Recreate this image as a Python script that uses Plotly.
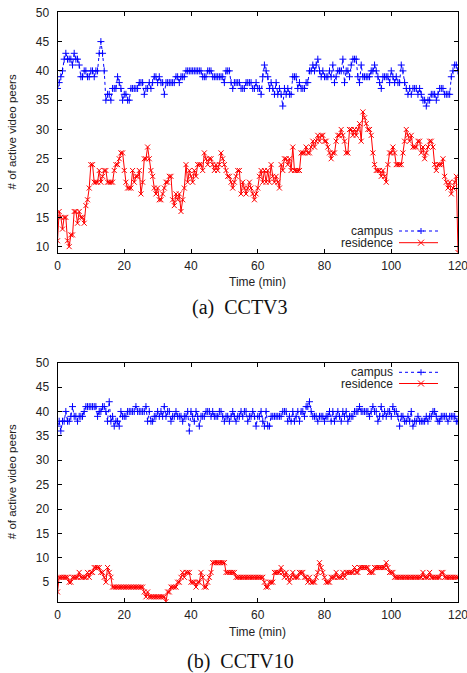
import numpy as np
import plotly.graph_objects as go

# ---------------- data (sampled every 0.5 min, 0..120) ----------------
cctv3_campus = (
    [37,38,39,40,42,43,42,42,42,41, 43,42,42,41,39,39,40,40,39,39] +
    [40,40,39,40,40,43,45,43,40,35, 36,36,35,37,37,37,39,38,37,35] +
    [36,36,35,35,37,37,37,37,37,38, 38,38,36,37,37,38,37,38,39,39] +
    [38,39,38,38,36,38,38,38,38,38, 38,39,39,38,39,39,39,40,40,40] +
    [40,40,40,40,40,40,40,39,39,39, 40,40,40,39,39,39,39,39,39,39] +
    [38,40,40,40,38,37,38,38,38,38, 37,37,37,38,38,38,38,37,37,38] +
    [37,37,36,39,41,40,39,37,38,37, 36,38,36,37,36,34,37,36,37,36] +
    [36,39,39,39,37,38,37,37,37,38, 38,40,40,41,40,41,42,40,39,40] +
    [39,39,39,40,39,41,38,39,40,40, 40,42,38,40,40,39,41,42,42,42] +
    [39,38,41,39,39,39,39,39,40,40, 41,40,39,38,37,39,39,39,39,38] +
    [40,39,38,39,38,38,41,40,38,37, 36,37,36,37,37,37,36,37,36,35] +
    [35,34,35,35,36,36,36,35,36,37, 37,37,36,36,36,36,39,40,41,41] +
    [40]
)
cctv3_residence = (
    [11,16,15,13,15,15,11,10,12,12, 16,16,14,16,15,15,14,17,18,20] +
    [24,24,21,21,21,23,21,22,23,23, 21,21,21,21,23,24,24,25,26,26] +
    [23,21,20,20,20,23,21,22,22,23, 19,21,25,25,27,25,23,22,20,19] +
    [20,18,18,19,20,21,21,22,22,18, 17,19,18,19,16,18,20,24,21,23] +
    [22,21,23,22,24,24,24,23,26,25, 24,25,25,24,23,24,23,24,26,25] +
    [24,23,22,22,21,20,21,22,23,23, 19,21,20,19,20,21,20,19,18,19] +
    [20,22,23,21,23,21,23,21,24,22, 21,22,21,20,24,23,25,25,24,25] +
    [23,27,23,23,23,23,26,26,26,27, 26,26,27,28,27,28,29,28,29,29] +
    [28,28,27,26,25,26,26,28,29,29, 30,29,28,26,26,30,30,29,30,29] +
    [30,31,28,33,32,31,30,30,29,26, 24,23,23,23,22,23,22,21,24,26] +
    [26,27,26,24,24,24,24,26,28,30, 29,28,29,27,27,27,28,28,26,27] +
    [25,26,27,28,28,27,24,23,24,24, 24,25,22,21,20,21,19,20,21,22] +
    [9]
)
cctv10_campus = (
    [37,38,36,38,38,40,38,38,39,41, 39,39,38,39,39,39,40,41,41,41] +
    [41,41,41,41,39,40,40,41,41,40, 38,42,38,39,37,38,38,37,40,39] +
    [39,39,40,40,40,40,40,41,40,40, 40,40,40,41,38,40,38,38,39,39] +
    [40,39,40,39,41,39,40,40,38,39, 39,40,39,39,39,38,39,39,40,36] +
    [40,39,38,40,39,37,39,39,39,40, 40,40,39,40,39,39,39,40,40,39] +
    [38,39,39,38,39,40,39,38,39,39, 40,39,40,40,38,39,39,40,39,37] +
    [39,39,40,38,37,40,37,37,39,39, 39,39,39,39,39,40,40,40,38,39] +
    [38,40,38,39,40,38,40,40,39,41, 41,42,40,39,39,39,38,39,39,39] +
    [38,39,39,40,38,40,38,39,40,39, 38,40,39,40,38,39,39,39,40,40] +
    [40,41,40,40,40,40,40,39,40,41, 40,40,38,39,41,39,40,39,40,40] +
    [39,41,40,40,39,37,39,39,38,38, 39,38,40,37,38,38,39,38,38,38] +
    [38,39,38,39,39,40,40,39,38,38, 39,39,39,39,38,39,39,39,39,38] +
    [38]
)
cctv10_residence = (
    [3,6,6,6,6,6,6,5,5,6, 6,6,6,7,6,6,6,6,7,6] +
    [7,7,8,8,8,8,7,7,6,5, 8,7,6,4,4,4,4,4,4,4] +
    [4,4,4,4,4,4,4,4,4,4, 4,4,3,2,3,2,2,2,2,2] +
    [2,2,2,2,2,1,3,3,4,4, 4,4,5,5,6,7,6,7,7,7] +
    [5,5,5,4,5,5,7,6,4,4, 5,6,7,9,9,9,9,9,9,9] +
    [9,7,7,7,7,7,7,6,6,6, 6,6,6,6,6,6,6,6,6,6] +
    [6,6,6,6,5,4,4,5,5,5, 7,7,7,7,8,7,6,7,6,5] +
    [6,7,6,6,6,7,7,7,6,6, 5,6,5,5,5,6,7,9,8,7] +
    [6,5,5,5,6,6,6,7,6,6, 6,7,6,7,7,7,7,7,8,7] +
    [7,8,8,8,8,8,8,7,7,7, 8,8,8,8,8,8,8,9,8,7] +
    [7,7,6,6,6,6,6,6,6,6, 6,6,6,6,6,6,6,6,6,7] +
    [6,6,6,7,6,6,6,6,6,6, 7,7,6,6,6,6,6,6,6,6] +
    [6]
)
series_names = ["campus", "residence"]
x_ticks = [0, 20, 40, 60, 80, 100, 120]
captions = ["(a)  CCTV3", "(b)  CCTV10"]
x_title = "Time (min)"
y_title = "# of active video peers"

# ---------------- layout helpers ----------------
W, H = 467, 673
BLUE = "#0000ff"
RED = "#ff0000"
SANS = "Liberation Sans, Arial, Helvetica, sans-serif"
SERIF = "Liberation Serif, Times New Roman, serif"


def px(x):
    return x / W


def py(y):
    return 1 - y / H


fig = go.Figure()

panels = [
    dict(campus=cctv3_campus, res=cctv3_residence, xa="x", ya="y",
         top=12.3, bottom=252.5, yrange=[9, 50], ytick0=10,
         leg_y=[231.0, 242.7], cap_y=308, title_y=281.5, cap=captions[0]),
    dict(campus=cctv10_campus, res=cctv10_residence, xa="x2", ya="y2",
         top=362.7, bottom=601.7, yrange=[1, 50], ytick0=5,
         leg_y=[372.3, 383.5], cap_y=661, title_y=631.5, cap=captions[1]),
]

LEFT, RIGHT = 57.5, 458.0
annotations = []
shapes = []

for i, p in enumerate(panels):
    t_c = np.linspace(0, 120, len(p["campus"]))
    t_r = np.linspace(0, 120, len(p["res"]))
    fig.add_trace(go.Scatter(
        x=t_c, y=p["campus"], xaxis=p["xa"], yaxis=p["ya"],
        mode="lines+markers", name=series_names[0], showlegend=False,
        line=dict(color=BLUE, width=1, dash="dot"),
        marker=dict(symbol="cross-thin", size=5, color=BLUE,
                    line=dict(color=BLUE, width=1)),
    ))
    fig.add_trace(go.Scatter(
        x=t_r, y=p["res"], xaxis=p["xa"], yaxis=p["ya"],
        mode="lines+markers", name=series_names[1], showlegend=False,
        line=dict(color=RED, width=1),
        marker=dict(symbol="x-thin", size=5, color=RED,
                    line=dict(color=RED, width=1)),
    ))

    sfx = "" if i == 0 else "2"
    axis_common = dict(showline=True, linecolor="black", linewidth=1,
                       mirror="ticks", ticks="inside", ticklen=4,
                       tickcolor="black", showgrid=False, zeroline=False,
                       automargin=False, ticklabeloverflow="allow",
                       tickfont=dict(family=SANS, size=12, color="#222"))
    fig.update_layout(**{
        "xaxis" + sfx: dict(axis_common, domain=[px(LEFT), px(RIGHT)],
                            range=[0, 120], tickvals=x_ticks,
                            anchor="y" + sfx, ticklabelstandoff=2),
        "yaxis" + sfx: dict(axis_common,
                            domain=[py(p["bottom"]), py(p["top"])],
                            range=p["yrange"], tick0=p["ytick0"], dtick=5,
                            anchor="x" + sfx, ticklabelstandoff=5),
    })

    # axis titles and caption
    annotations.append(dict(text=x_title, x=px(257), y=py(p["title_y"]),
                            xref="paper", yref="paper", showarrow=False,
                            font=dict(family=SANS, size=12, color="#222"),
                            xanchor="center", yanchor="middle"))
    annotations.append(dict(text=y_title, x=px(12),
                            y=py((p["top"] + p["bottom"]) / 2),
                            xref="paper", yref="paper", showarrow=False,
                            textangle=-90,
                            font=dict(family=SANS, size=11.5, color="#222"),
                            xanchor="center", yanchor="middle"))
    annotations.append(dict(text=p["cap"], x=px(240), y=py(p["cap_y"]),
                            xref="paper", yref="paper", showarrow=False,
                            font=dict(family=SERIF, size=20, color="#111"),
                            xanchor="center", yanchor="middle"))

    # gnuplot-style key: text on the left, sample on the right
    for k, (name, col, dash) in enumerate(
            [(series_names[0], BLUE, "dot"), (series_names[1], RED, "solid")]):
        yy = p["leg_y"][k]
        annotations.append(dict(text=name, x=px(394), y=py(yy),
                                xref="paper", yref="paper", showarrow=False,
                                borderpad=0,
                                font=dict(family=SANS, size=12, color="#222"),
                                xanchor="right", yanchor="middle"))
        shapes.append(dict(type="line", xref="paper", yref="paper",
                           x0=px(399), x1=px(438), y0=py(yy), y1=py(yy),
                           line=dict(color=col, width=1, dash=dash)))
        mx, s = 421.0, 3.0
        if k == 0:
            segs = [((mx - s, yy), (mx + s, yy)), ((mx, yy - s), (mx, yy + s))]
        else:
            segs = [((mx - s, yy - s), (mx + s, yy + s)),
                    ((mx - s, yy + s), (mx + s, yy - s))]
        for (a, b) in segs:
            shapes.append(dict(type="line", xref="paper", yref="paper",
                               x0=px(a[0]), y0=py(a[1]), x1=px(b[0]), y1=py(b[1]),
                               line=dict(color=col, width=1)))

fig.update_layout(width=W, height=H, margin=dict(l=0, r=0, t=0, b=0),
                  paper_bgcolor="white", plot_bgcolor="white",
                  showlegend=False, annotations=annotations, shapes=shapes)

fig.write_html(
    "out.html",
    config={"displayModeBar": False},
    post_script="document.body.style.margin='0';"
                "document.body.style.overflow='hidden';",
)
